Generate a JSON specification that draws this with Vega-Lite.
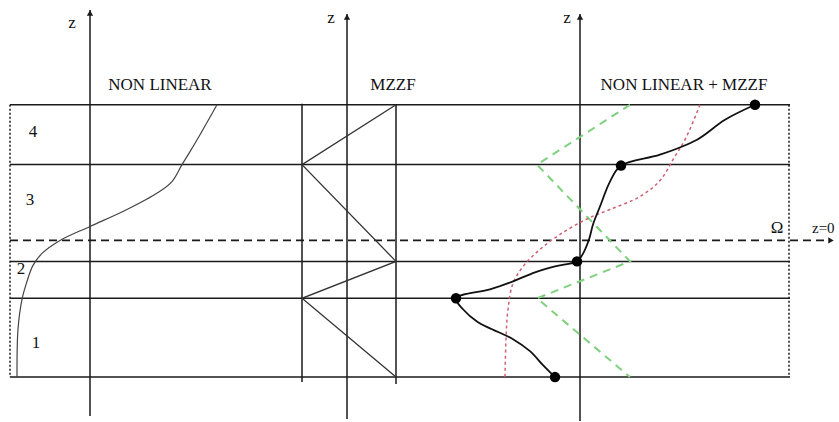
{
  "$schema": "https://vega.github.io/schema/vega-lite/v6.json",
  "width": 839,
  "height": 422,
  "autosize": {"type": "fit", "contains": "padding"},
  "padding": 0,
  "background": "white",
  "config": {"view": {"stroke": null}, "text": {"font": "Times New Roman, Liberation Serif, serif"}},
  "datasets": {
    "solid": [
      {"x": 10, "y": 105, "x2": 790, "y2": 105},
      {"x": 10, "y": 165, "x2": 790, "y2": 165},
      {"x": 10, "y": 262, "x2": 790, "y2": 262},
      {"x": 10, "y": 299, "x2": 790, "y2": 299},
      {"x": 10, "y": 378, "x2": 790, "y2": 378},
      {"x": 90, "y": 10, "x2": 90, "y2": 417},
      {"x": 347, "y": 14, "x2": 347, "y2": 420},
      {"x": 580, "y": 14, "x2": 580, "y2": 422},
      {"x": 302, "y": 104, "x2": 302, "y2": 383},
      {"x": 396, "y": 105, "x2": 396, "y2": 385}
    ],
    "dotted": [
      {"x": 10, "y": 105, "x2": 10, "y2": 378},
      {"x": 789, "y": 105, "x2": 789, "y2": 378}
    ],
    "dashed": [
      {"x": 10, "y": 241, "x2": 830, "y2": 241}
    ],
    "mzzf": [
      {"i": 0, "x": 396, "y": 105},
      {"i": 1, "x": 302, "y": 165},
      {"i": 2, "x": 396, "y": 262},
      {"i": 3, "x": 302, "y": 299},
      {"i": 4, "x": 396, "y": 378}
    ],
    "green": [
      {"i": 0, "x": 630, "y": 105},
      {"i": 1, "x": 537, "y": 165},
      {"i": 2, "x": 630, "y": 262},
      {"i": 3, "x": 537, "y": 299},
      {"i": 4, "x": 630, "y": 378}
    ],
    "red": [
      {"i": 0, "x": 700, "y": 105},
      {"i": 1, "x": 686, "y": 138},
      {"i": 2, "x": 673, "y": 160},
      {"i": 3, "x": 660, "y": 181},
      {"i": 4, "x": 640, "y": 197},
      {"i": 5, "x": 610, "y": 210},
      {"i": 6, "x": 588, "y": 219},
      {"i": 7, "x": 560, "y": 235},
      {"i": 8, "x": 540, "y": 250},
      {"i": 9, "x": 524, "y": 266},
      {"i": 10, "x": 513, "y": 284},
      {"i": 11, "x": 508, "y": 310},
      {"i": 12, "x": 506, "y": 340},
      {"i": 13, "x": 505, "y": 378}
    ],
    "nonlinear": [
      {"i": 0, "x": 217, "y": 105},
      {"i": 1, "x": 200, "y": 135},
      {"i": 2, "x": 190, "y": 152},
      {"i": 3, "x": 182, "y": 165},
      {"i": 4, "x": 172, "y": 182},
      {"i": 5, "x": 158, "y": 193},
      {"i": 6, "x": 127, "y": 210},
      {"i": 7, "x": 90, "y": 227},
      {"i": 8, "x": 60, "y": 241},
      {"i": 9, "x": 42, "y": 254},
      {"i": 10, "x": 33, "y": 266},
      {"i": 11, "x": 27, "y": 282},
      {"i": 12, "x": 22, "y": 300},
      {"i": 13, "x": 18, "y": 330},
      {"i": 14, "x": 17, "y": 378}
    ],
    "combined": [
      {"i": 0, "x": 755, "y": 105},
      {"i": 1, "x": 725, "y": 120},
      {"i": 2, "x": 697, "y": 140},
      {"i": 3, "x": 660, "y": 155},
      {"i": 4, "x": 621, "y": 166},
      {"i": 5, "x": 610, "y": 182},
      {"i": 6, "x": 600, "y": 207},
      {"i": 7, "x": 593, "y": 225},
      {"i": 8, "x": 589, "y": 240},
      {"i": 9, "x": 582, "y": 256},
      {"i": 10, "x": 577, "y": 262},
      {"i": 11, "x": 555, "y": 267},
      {"i": 12, "x": 535, "y": 273},
      {"i": 13, "x": 513, "y": 282},
      {"i": 14, "x": 490, "y": 290},
      {"i": 15, "x": 456, "y": 299},
      {"i": 16, "x": 463, "y": 310},
      {"i": 17, "x": 478, "y": 323},
      {"i": 18, "x": 492, "y": 330},
      {"i": 19, "x": 513, "y": 340},
      {"i": 20, "x": 530, "y": 352},
      {"i": 21, "x": 543, "y": 366},
      {"i": 22, "x": 555, "y": 378}
    ],
    "dots": [
      {"x": 755, "y": 105},
      {"x": 621, "y": 166},
      {"x": 577, "y": 262},
      {"x": 456, "y": 299},
      {"x": 555, "y": 378}
    ],
    "arrowsUp": [
      {"x": 90, "y": 13},
      {"x": 347, "y": 17},
      {"x": 580, "y": 17}
    ],
    "arrowsRight": [
      {"x": 831, "y": 241}
    ],
    "titles": [
      {"x": 160, "y": 90, "label": "NON LINEAR"},
      {"x": 393, "y": 90, "label": "MZZF"},
      {"x": 684, "y": 90, "label": "NON  LINEAR + MZZF"}
    ],
    "zlabels": [
      {"x": 72, "y": 28, "label": "z"},
      {"x": 331, "y": 23, "label": "z"},
      {"x": 567, "y": 23, "label": "z"}
    ],
    "regions": [
      {"x": 33, "y": 132, "label": "4"},
      {"x": 30, "y": 200, "label": "3"},
      {"x": 21, "y": 270, "label": "2"},
      {"x": 36, "y": 344, "label": "1"},
      {"x": 777, "y": 229, "label": "Ω"}
    ],
    "zero": [
      {"x": 812, "y": 229, "label": "z=0"}
    ]
  },
  "layer": [
    {
      "data": {"name": "solid"},
      "mark": {"type": "rule", "color": "#1a1a1a", "strokeWidth": 1.5},
      "encoding": {
        "x": {"field": "x", "type": "quantitative", "scale": {"domain": [0, 839], "nice": false, "zero": false}, "axis": null},
        "y": {"field": "y", "type": "quantitative", "scale": {"domain": [0, 422], "nice": false, "zero": false, "reverse": true}, "axis": null},
        "x2": {"field": "x2"},
        "y2": {"field": "y2"}
      }
    },
    {
      "data": {"name": "dotted"},
      "mark": {"type": "rule", "color": "#1a1a1a", "strokeWidth": 1.5, "strokeDash": [2, 2]},
      "encoding": {
        "x": {"field": "x", "type": "quantitative", "scale": {"domain": [0, 839], "nice": false, "zero": false}, "axis": null},
        "y": {"field": "y", "type": "quantitative", "scale": {"domain": [0, 422], "nice": false, "zero": false, "reverse": true}, "axis": null},
        "x2": {"field": "x2"},
        "y2": {"field": "y2"}
      }
    },
    {
      "data": {"name": "dashed"},
      "mark": {"type": "rule", "color": "#1a1a1a", "strokeWidth": 1.8, "strokeDash": [8, 5]},
      "encoding": {
        "x": {"field": "x", "type": "quantitative", "scale": {"domain": [0, 839], "nice": false, "zero": false}, "axis": null},
        "y": {"field": "y", "type": "quantitative", "scale": {"domain": [0, 422], "nice": false, "zero": false, "reverse": true}, "axis": null},
        "x2": {"field": "x2"},
        "y2": {"field": "y2"}
      }
    },
    {
      "data": {"name": "mzzf"},
      "mark": {"type": "line", "color": "#333333", "strokeWidth": 1.3},
      "encoding": {
        "x": {"field": "x", "type": "quantitative", "scale": {"domain": [0, 839], "nice": false, "zero": false}, "axis": null},
        "y": {"field": "y", "type": "quantitative", "scale": {"domain": [0, 422], "nice": false, "zero": false, "reverse": true}, "axis": null},
        "order": {"field": "i"}
      }
    },
    {
      "data": {"name": "green"},
      "mark": {"type": "line", "color": "#7fd07f", "strokeWidth": 2, "strokeDash": [8, 6]},
      "encoding": {
        "x": {"field": "x", "type": "quantitative", "scale": {"domain": [0, 839], "nice": false, "zero": false}, "axis": null},
        "y": {"field": "y", "type": "quantitative", "scale": {"domain": [0, 422], "nice": false, "zero": false, "reverse": true}, "axis": null},
        "order": {"field": "i"}
      }
    },
    {
      "data": {"name": "red"},
      "mark": {"type": "line", "color": "#d06070", "strokeWidth": 1.5, "strokeDash": [3, 3], "interpolate": "catmull-rom"},
      "encoding": {
        "x": {"field": "x", "type": "quantitative", "scale": {"domain": [0, 839], "nice": false, "zero": false}, "axis": null},
        "y": {"field": "y", "type": "quantitative", "scale": {"domain": [0, 422], "nice": false, "zero": false, "reverse": true}, "axis": null},
        "order": {"field": "i"}
      }
    },
    {
      "data": {"name": "nonlinear"},
      "mark": {"type": "line", "color": "#444444", "strokeWidth": 1.2, "interpolate": "catmull-rom"},
      "encoding": {
        "x": {"field": "x", "type": "quantitative", "scale": {"domain": [0, 839], "nice": false, "zero": false}, "axis": null},
        "y": {"field": "y", "type": "quantitative", "scale": {"domain": [0, 422], "nice": false, "zero": false, "reverse": true}, "axis": null},
        "order": {"field": "i"}
      }
    },
    {
      "data": {"name": "combined"},
      "mark": {"type": "line", "color": "#111111", "strokeWidth": 1.8, "interpolate": "catmull-rom"},
      "encoding": {
        "x": {"field": "x", "type": "quantitative", "scale": {"domain": [0, 839], "nice": false, "zero": false}, "axis": null},
        "y": {"field": "y", "type": "quantitative", "scale": {"domain": [0, 422], "nice": false, "zero": false, "reverse": true}, "axis": null},
        "order": {"field": "i"}
      }
    },
    {
      "data": {"name": "dots"},
      "mark": {"type": "point", "filled": true, "color": "#000000", "opacity": 1, "size": 110},
      "encoding": {
        "x": {"field": "x", "type": "quantitative", "scale": {"domain": [0, 839], "nice": false, "zero": false}, "axis": null},
        "y": {"field": "y", "type": "quantitative", "scale": {"domain": [0, 422], "nice": false, "zero": false, "reverse": true}, "axis": null}
      }
    },
    {
      "data": {"name": "arrowsUp"},
      "mark": {"type": "point", "filled": true, "color": "#1a1a1a", "opacity": 1, "size": 40, "shape": "triangle-up"},
      "encoding": {
        "x": {"field": "x", "type": "quantitative", "scale": {"domain": [0, 839], "nice": false, "zero": false}, "axis": null},
        "y": {"field": "y", "type": "quantitative", "scale": {"domain": [0, 422], "nice": false, "zero": false, "reverse": true}, "axis": null}
      }
    },
    {
      "data": {"name": "arrowsRight"},
      "mark": {"type": "point", "filled": true, "color": "#1a1a1a", "opacity": 1, "size": 40, "shape": "triangle-right"},
      "encoding": {
        "x": {"field": "x", "type": "quantitative", "scale": {"domain": [0, 839], "nice": false, "zero": false}, "axis": null},
        "y": {"field": "y", "type": "quantitative", "scale": {"domain": [0, 422], "nice": false, "zero": false, "reverse": true}, "axis": null}
      }
    },
    {
      "data": {"name": "titles"},
      "mark": {"type": "text", "font": "Times New Roman, Liberation Serif, serif", "fontSize": 17, "color": "#111111", "align": "center", "baseline": "alphabetic"},
      "encoding": {
        "x": {"field": "x", "type": "quantitative", "scale": {"domain": [0, 839], "nice": false, "zero": false}, "axis": null},
        "y": {"field": "y", "type": "quantitative", "scale": {"domain": [0, 422], "nice": false, "zero": false, "reverse": true}, "axis": null},
        "text": {"field": "label"}
      }
    },
    {
      "data": {"name": "zlabels"},
      "mark": {"type": "text", "font": "Times New Roman, Liberation Serif, serif", "fontSize": 17, "color": "#111111", "align": "center", "baseline": "alphabetic"},
      "encoding": {
        "x": {"field": "x", "type": "quantitative", "scale": {"domain": [0, 839], "nice": false, "zero": false}, "axis": null},
        "y": {"field": "y", "type": "quantitative", "scale": {"domain": [0, 422], "nice": false, "zero": false, "reverse": true}, "axis": null},
        "text": {"field": "label"}
      }
    },
    {
      "data": {"name": "regions"},
      "mark": {"type": "text", "font": "Times New Roman, Liberation Serif, serif", "fontSize": 17, "color": "#111111", "align": "center", "baseline": "middle"},
      "encoding": {
        "x": {"field": "x", "type": "quantitative", "scale": {"domain": [0, 839], "nice": false, "zero": false}, "axis": null},
        "y": {"field": "y", "type": "quantitative", "scale": {"domain": [0, 422], "nice": false, "zero": false, "reverse": true}, "axis": null},
        "text": {"field": "label"}
      }
    },
    {
      "data": {"name": "zero"},
      "mark": {"type": "text", "font": "Times New Roman, Liberation Serif, serif", "fontSize": 15, "color": "#111111", "align": "left", "baseline": "middle"},
      "encoding": {
        "x": {"field": "x", "type": "quantitative", "scale": {"domain": [0, 839], "nice": false, "zero": false}, "axis": null},
        "y": {"field": "y", "type": "quantitative", "scale": {"domain": [0, 422], "nice": false, "zero": false, "reverse": true}, "axis": null},
        "text": {"field": "label"}
      }
    }
  ]
}
